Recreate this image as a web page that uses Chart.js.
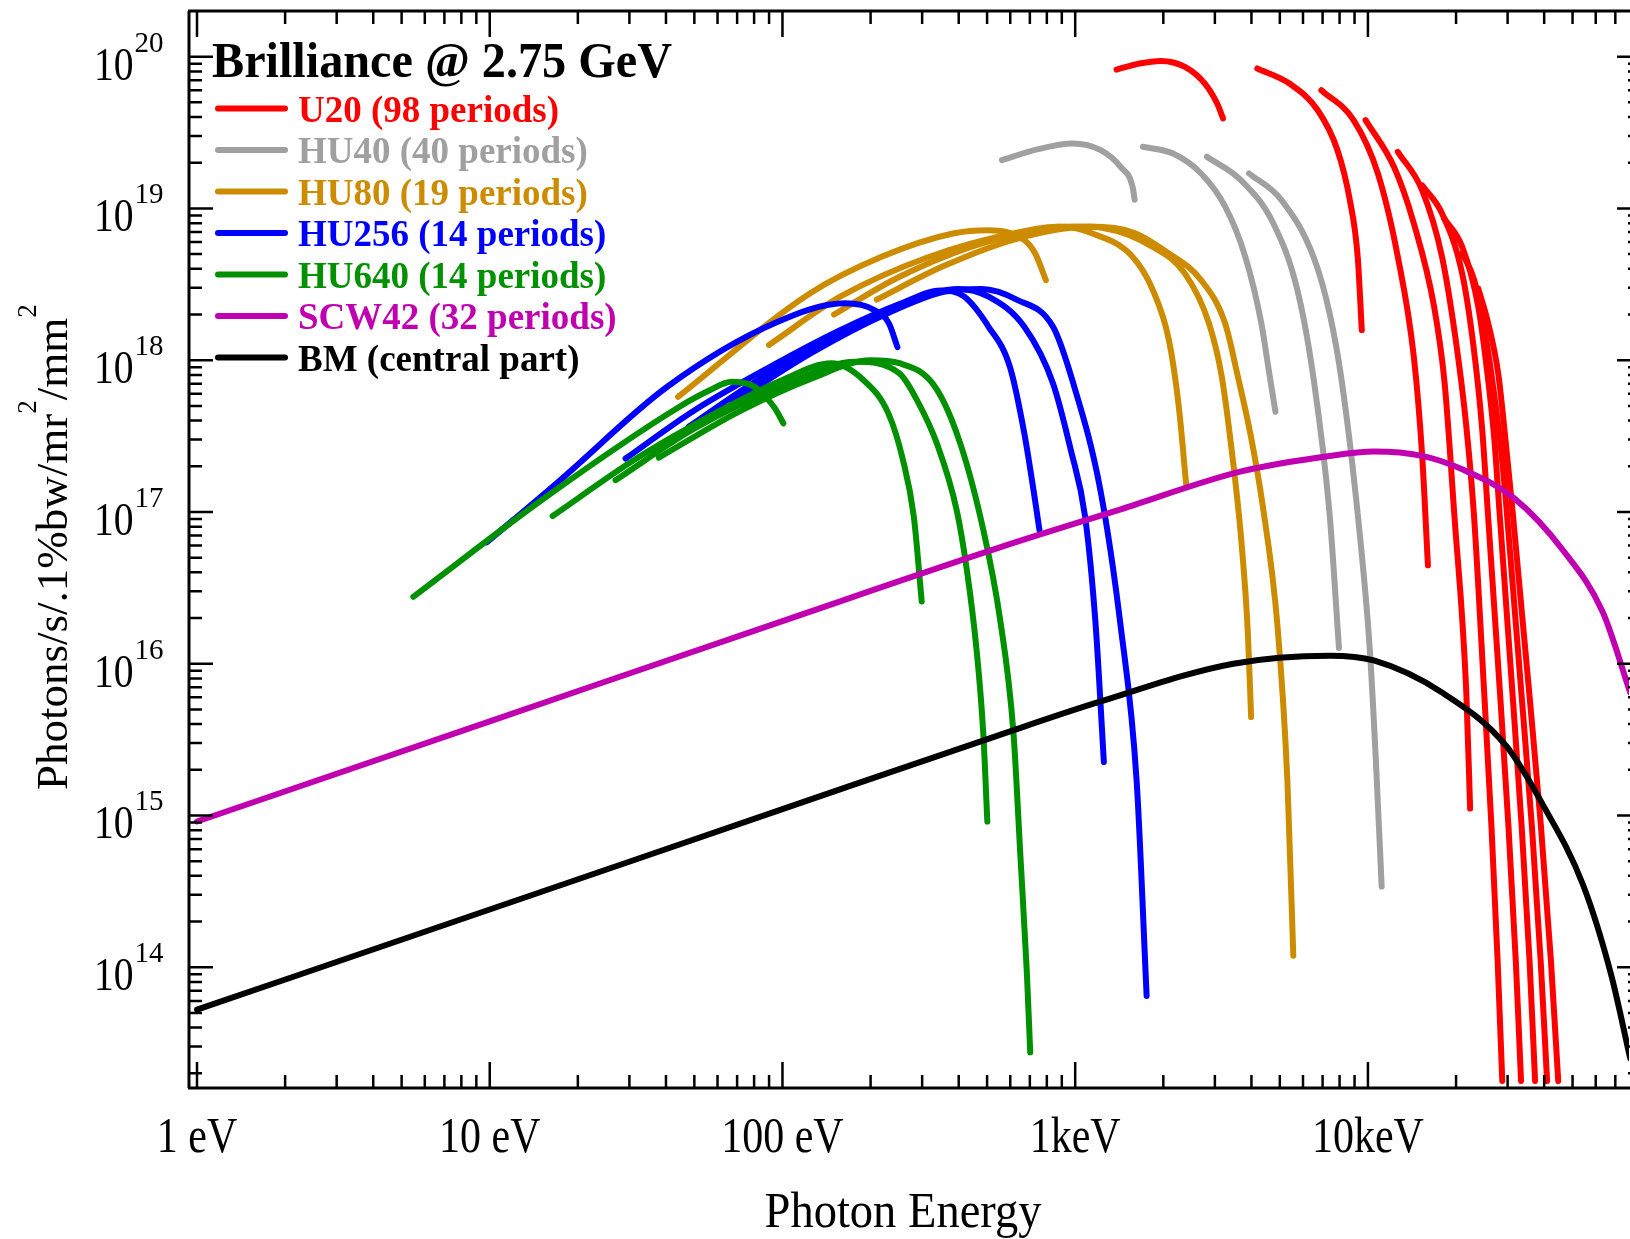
<!DOCTYPE html>
<html lang="en">
<head>
<meta charset="utf-8">
<title>Brilliance @ 2.75 GeV</title>
<script src="https://cdn.jsdelivr.net/npm/chart.js@4.4.0/dist/chart.umd.min.js"></script>
<style>
  html, body { margin: 0; padding: 0; background: #fff; }
  #wrap { width: 1630px; height: 1239px; position: relative; }
</style>
</head>
<body>
<div id="wrap"><canvas id="chart"></canvas></div>
<script>
// each curve: [photon energy in eV, brilliance]
const U20_H1 = [[1384, 8.22e19], [1660, 9.02e19], [1959, 9.38e19], [2371, 8.57e19], [2773, 6.65e19], [3055, 4.91e19], [3199, 3.92e19]];
const U20_H3 = [[4188, 8.36e19], [5395, 6.65e19], [6730, 4.45e19], [7870, 2.42e19], [8670, 1.14e19], [9226, 4.80e18], [9528, 1.58e18]];
const U20_H5 = [[6934, 6.01e19], [8933, 3.82e19], [10810, 1.70e19], [12650, 4.80e18], [14350, 1.05e18], [15310, 2.40e17], [16030, 4.45e16]];
const U20_H7 = [[9817, 3.82e19], [12270, 1.88e19], [14350, 7.96e18], [16830, 2.25e18], [18280, 7.08e17], [19720, 9.71e16], [21680, 6.46e15], [22340, 1.11e15]];
const U20_H9 = [[12650, 2.36e19], [15310, 1.32e19], [17910, 4.80e18], [19950, 1.36e18], [21630, 3.83e17], [23010, 9.71e16], [24950, 6.46e15], [26420, 8.51e14], [27730, 1.11e14], [28770, 1.78e13]];
const U20_H11 = [[15310, 1.42e19], [17910, 9.27e18], [20990, 3.72e18], [22910, 1.26e18], [24550, 3.55e17], [25700, 9.71e16], [28250, 6.46e15], [30200, 8.51e14], [31990, 1.11e14], [33340, 1.78e13]];
const U20_H13 = [[18200, 8.59e18], [20990, 5.58e18], [23820, 2.25e18], [25590, 8.18e17], [27040, 2.98e17], [28180, 9.71e16], [31160, 6.46e15], [33500, 8.51e14], [35650, 1.11e14], [37240, 1.78e13]];
const U20_H15 = [[20990, 5.05e18], [23070, 3.37e18], [25350, 1.36e18], [27350, 4.93e17], [28710, 2.24e17], [29850, 9.71e16], [33420, 6.46e15], [36310, 8.51e14], [38900, 1.11e14], [40930, 1.78e13]];
const U20_H17 = [[23820, 2.97e18], [25760, 1.75e18], [27860, 8.18e17], [29510, 2.98e17], [31260, 9.71e16], [35560, 6.46e15], [38990, 8.51e14], [42170, 1.11e14], [44670, 1.78e13]];

const HU40_H1 = [[562, 2.08e19], [741, 2.45e19], [977, 2.68e19], [1222, 2.42e19], [1429, 1.88e19], [1570, 1.39e19], [1596, 1.14e19]];
const HU40_H3 = [[1702, 2.55e19], [2158, 2.30e19], [2692, 1.70e19], [3251, 1.03e19], [3811, 4.80e18], [4325, 1.75e18], [4603, 8.18e17], [4831, 4.57e17]];
const HU40_H5 = [[2818, 2.19e19], [3690, 1.53e19], [4753, 7.96e18], [5741, 2.90e18], [6531, 7.41e17], [7396, 9.71e16], [7962, 1.27e16]];
const HU40_H7 = [[3926, 1.70e19], [5058, 1.14e19], [6516, 4.80e18], [7413, 2.00e18], [8128, 7.40e17], [9226, 9.71e16], [10140, 1.27e16], [10640, 2.34e15], [11140, 3.40e14]];

const HU80_H1 = [[44.0, 5.74e17], [124, 2.75e18], [218, 4.80e18], [382, 6.84e18], [506, 7.19e18], [670, 6.18e18], [730, 5.05e18], [794, 3.37e18]];
const HU80_H3 = [[89.9, 1.26e18], [158, 2.63e18], [316, 4.79e18], [631, 6.92e18], [891, 7.59e18], [1146, 6.84e18], [1570, 4.80e18], [1841, 2.90e18], [2089, 1.36e18], [2259, 4.93e17], [2393, 1.53e17]];
const HU80_H5 = [[150, 2.00e18], [251, 3.55e18], [501, 6.03e18], [1000, 7.59e18], [1259, 7.41e18], [1841, 5.58e18], [2371, 3.72e18], [2864, 1.75e18], [3162, 7.94e17], [3428, 2.51e17], [3698, 6.31e16], [3890, 1.58e16], [3990, 4.45e15]];
const HU80_H7 = [[210, 2.51e18], [355, 4.17e18], [631, 6.31e18], [1122, 7.59e18], [1585, 6.92e18], [2089, 5.05e18], [2692, 3.37e18], [3251, 1.75e18], [3597, 7.76e17], [3981, 3.16e17], [4365, 1.12e17], [4909, 1.78e16], [5309, 1.67e15], [5559, 1.19e14]];

const HU256_H1 = [[9.77, 6.31e16], [17.4, 1.62e17], [40.4, 6.68e17], [93.8, 1.75e18], [164, 2.37e18], [206, 2.14e18], [231, 1.75e18], [247, 1.22e18]];
const HU256_H3 = [[29.1, 2.25e17], [50.1, 4.68e17], [100, 1.00e18], [158, 1.58e18], [251, 2.34e18], [347, 2.88e18], [417, 2.63e18], [506, 1.66e18], [598, 9.06e17], [670, 3.30e17], [729, 1.20e17], [755, 7.57e16]];
const HU256_H5 = [[47.8, 3.64e17], [79.4, 7.08e17], [158, 1.51e18], [282, 2.51e18], [398, 2.95e18], [506, 2.62e18], [670, 1.66e18], [840, 7.03e17], [966, 2.56e17], [1081, 9.31e16], [1175, 1.78e16], [1253, 2.25e15]];
const HU256_H7 = [[67.6, 5.25e17], [126, 1.12e18], [224, 2.00e18], [355, 2.82e18], [479, 2.95e18], [631, 2.51e18], [840, 1.66e18], [977, 7.41e17], [1222, 1.36e17], [1429, 1.78e16], [1622, 1.67e15], [1754, 6.47e13]];

const HU640_H1 = [[5.48, 2.76e16], [15.6, 1.26e17], [44.2, 4.90e17], [56.2, 6.31e17], [67.0, 7.21e17], [79.4, 6.76e17], [87.5, 5.74e17], [94.4, 4.79e17], [100.7, 3.84e17]];
const HU640_H3 = [[16.4, 9.40e16], [31.6, 2.24e17], [63.1, 4.79e17], [100, 7.41e17], [147, 9.53e17], [189, 7.40e17], [230, 4.46e17], [258, 2.20e17], [281, 9.31e16], [299, 2.57e16]];
const HU640_H5 = [[26.9, 1.62e17], [50.1, 3.55e17], [100, 6.76e17], [178, 9.77e17], [251, 8.18e17], [288, 5.46e17], [337, 2.82e17], [394, 1.02e17], [427, 4.07e16], [461, 1.20e16], [485, 3.55e15], [501, 9.12e14]];
const HU640_H7 = [[37.8, 2.28e17], [70.8, 4.57e17], [126, 7.59e17], [200, 1.00e18], [251, 9.55e17], [332, 6.68e17], [405, 2.82e17], [486, 7.53e16], [553, 2.00e16], [615, 3.55e15], [649, 5.65e14], [684, 9.02e13], [702, 2.75e13]];

const SCW42 = [[1, 9.12e14], [10, 4.17e15], [100, 1.91e16], [553, 5.84e16], [1429, 1.04e17], [3690, 1.85e17], [7396, 2.34e17], [10470, 2.50e17], [15310, 2.34e17], [20990, 1.91e17], [31620, 1.23e17], [46240, 5.64e16], [63390, 2.19e16], [78700, 6.46e15]];
const BM = [[1, 5.25e13], [10, 2.40e14], [100, 1.10e15], [553, 3.40e15], [1222, 5.64e15], [3467, 1.00e16], [7413, 1.13e16], [10470, 1.05e16], [17910, 6.46e15], [29720, 2.86e15], [39450, 1.19e15], [54200, 3.52e14], [67600, 9.06e13], [78700, 2.51e13]];

const xTickLabels = ['1 eV', '10 eV', '100 eV', '1keV', '10keV'];
const yDecades = [14, 15, 16, 17, 18, 19, 20];

const groups = [
  { name: 'U20 (98 periods)', color: '#ff0000', order: 6, curves: [U20_H1, U20_H3, U20_H5, U20_H7, U20_H9, U20_H11, U20_H13, U20_H15, U20_H17] },
  { name: 'HU40 (40 periods)', color: '#a0a0a0', order: 5, curves: [HU40_H1, HU40_H3, HU40_H5, HU40_H7] },
  { name: 'HU80 (19 periods)', color: '#cd8c00', order: 4, curves: [HU80_H1, HU80_H3, HU80_H5, HU80_H7] },
  { name: 'HU256 (14 periods)', color: '#0000ff', order: 3, curves: [HU256_H1, HU256_H3, HU256_H5, HU256_H7] },
  { name: 'HU640 (14 periods)', color: '#009000', order: 2, curves: [HU640_H1, HU640_H3, HU640_H5, HU640_H7] },
  { name: 'SCW42 (32 periods)', color: '#c000b0', order: 1, curves: [SCW42] },
  { name: 'BM (central part)', color: '#000000', order: 0, curves: [BM] }
];

const FONT = "'Liberation Serif', 'Times New Roman', serif";

const datasets = [];
groups.forEach(g => {
  g.curves.forEach(c => {
    datasets.push({
      label: g.name,
      data: c.map(p => ({ x: p[0], y: p[1] })),
      borderColor: g.color,
      borderWidth: 6,
      pointRadius: 0,
      showLine: true,
      fill: false,
      cubicInterpolationMode: 'monotone',
      borderCapStyle: 'round',
      borderJoinStyle: 'round',
      order: g.order
    });
  });
});

// text drawn with a horizontal squeeze, like the original
function drawText(ctx, s, x, y, font, color, align, sx) {
  ctx.save();
  ctx.font = font;
  ctx.fillStyle = color;
  ctx.textBaseline = 'alphabetic';
  ctx.textAlign = 'left';
  const w = ctx.measureText(s).width * sx;
  let x0 = x;
  if (align === 'center') x0 = x - w / 2;
  else if (align === 'right') x0 = x - w;
  ctx.translate(x0, y);
  ctx.scale(sx, 1);
  ctx.fillText(s, 0, 0);
  ctx.restore();
  return w;
}

const framePlugin = {
  id: 'frame',
  afterDatasetsDraw(chart) {
    const { ctx, chartArea: a, scales } = chart;
    const xs = scales.x, ys = scales.y;
    const rightAxis = a.right + 12; // the right spine sits just past the picture edge
    ctx.save();
    ctx.strokeStyle = '#000';
    ctx.lineCap = 'butt';

    // spines
    ctx.lineWidth = 3;
    ctx.beginPath();
    ctx.moveTo(a.left, a.top);
    ctx.lineTo(a.left, a.bottom);
    ctx.moveTo(a.left - 1, a.bottom);
    ctx.lineTo(rightAxis, a.bottom);
    ctx.moveTo(a.left - 1, a.top);
    ctx.lineTo(rightAxis, a.top);
    ctx.moveTo(rightAxis, a.top);
    ctx.lineTo(rightAxis, a.bottom);
    ctx.stroke();

    // x ticks (inward, top and bottom)
    ctx.lineWidth = 2.5;
    ctx.beginPath();
    for (let k = 0; k <= 4; k++) {
      for (let m = 1; m <= 9; m++) {
        const v = m * Math.pow(10, k);
        if (v > xs.max) continue;
        const px = xs.getPixelForValue(v);
        const len = m === 1 ? 26 : 13;
        ctx.moveTo(px, a.bottom);
        ctx.lineTo(px, a.bottom - len);
        ctx.moveTo(px, a.top);
        ctx.lineTo(px, a.top + len);
      }
    }
    // y ticks (inward, left and right)
    for (let k = 13; k <= 20; k++) {
      for (let m = 1; m <= 9; m++) {
        const v = m * Math.pow(10, k);
        if (v < ys.min || v > ys.max * 0.99) continue;
        const py = ys.getPixelForValue(v);
        const len = m === 1 ? 24 : 13;
        ctx.moveTo(a.left, py);
        ctx.lineTo(a.left + len, py);
        ctx.moveTo(rightAxis, py);
        ctx.lineTo(rightAxis - len, py);
      }
    }
    ctx.stroke();

    // x tick labels
    xTickLabels.forEach((lab, i) => {
      const px = xs.getPixelForValue(Math.pow(10, i));
      drawText(ctx, lab, px, 1152, '50px ' + FONT, '#000', 'center', 0.84);
    });

    // y tick labels 10^n
    yDecades.forEach(k => {
      const py = ys.getPixelForValue(Math.pow(10, k));
      const w = drawText(ctx, '10', 94, py + 23, '46px ' + FONT, '#000', 'left', 0.86);
      drawText(ctx, String(k), 94 + w + 1, py - 5, '29px ' + FONT, '#000', 'left', 1.0);
    });

    // axis titles
    drawText(ctx, 'Photon Energy', 903, 1227, '50px ' + FONT, '#000', 'center', 0.93);

    ctx.save();
    ctx.translate(67, 790);
    ctx.rotate(-Math.PI / 2);
    ctx.fillStyle = '#000';
    ctx.textBaseline = 'alphabetic';
    let cx = 0;
    const parts = [['Photons/s/.1%bw/mr', 0, 45], ['2', -31, 27], ['/mm', 0, 45], ['2', -31, 27]];
    parts.forEach(p => {
      ctx.font = p[2] + 'px ' + FONT;
      ctx.fillText(p[0], cx, p[1]);
      cx += ctx.measureText(p[0]).width;
    });
    ctx.restore();

    // legend block
    ctx.save();
    ctx.font = 'bold 50px ' + FONT;
    const title = 'Brilliance @ 2.75 GeV';
    const tw = ctx.measureText(title).width;
    ctx.restore();
    drawText(ctx, title, 212, 77, 'bold 50px ' + FONT, '#000', 'left', 460 / tw);

    groups.forEach((g, i) => {
      const cy = 108.5 + i * 41.5;
      ctx.save();
      ctx.strokeStyle = g.color;
      ctx.lineWidth = 6;
      ctx.lineCap = 'round';
      ctx.beginPath();
      ctx.moveTo(218, cy);
      ctx.lineTo(285, cy);
      ctx.stroke();
      ctx.restore();
      drawText(ctx, g.name, 298, cy + 13, 'bold 37px ' + FONT, g.color, 'left', 1.0);
    });

    ctx.restore();
  }
};

const chart = new Chart(document.getElementById('chart'), {
  type: 'scatter',
  data: { datasets: datasets },
  options: {
    responsive: true,
    maintainAspectRatio: false,
    animation: false,
    devicePixelRatio: 1,
    events: [],
    layout: { padding: { left: 189, top: 11, right: 1, bottom: 151 } },
    plugins: {
      legend: { display: false },
      tooltip: { enabled: false }
    },
    scales: {
      x: { type: 'logarithmic', min: 0.939, max: 77950, display: false },
      y: { type: 'logarithmic', min: 1.6e13, max: 2.0e20, display: false }
    }
  },
  plugins: [framePlugin]
});
</script>
</body>
</html>
